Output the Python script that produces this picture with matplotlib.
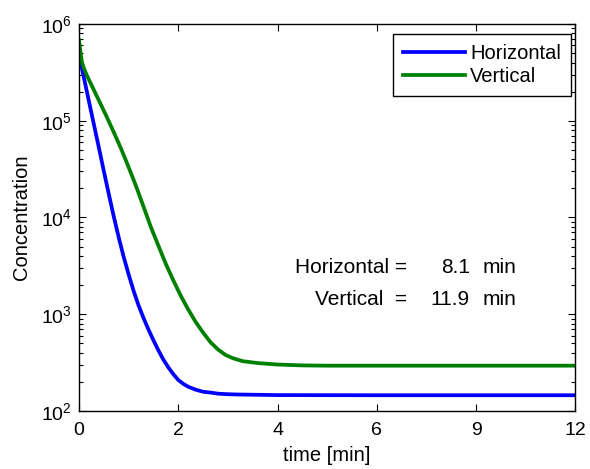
import numpy as np
import matplotlib
matplotlib.use("Agg")
import matplotlib.pyplot as plt
from matplotlib.ticker import LogLocator, FixedLocator, NullLocator

plt.rcParams['font.family'] = ['Liberation Sans', 'DejaVu Sans']
plt.rcParams['mathtext.fontset'] = 'custom'
plt.rcParams['mathtext.rm'] = 'Liberation Sans'
plt.rcParams['mathtext.it'] = 'Liberation Sans:italic'
plt.rcParams['mathtext.bf'] = 'Liberation Sans:bold'

# Data
t_h = [0, 0.1, 0.2, 0.3, 0.4, 0.5, 0.6, 0.7, 0.8, 0.9, 1.0, 1.1, 1.2, 1.3, 1.4, 1.5,
       1.6, 1.7, 1.8, 1.9, 2.0, 2.1, 2.2, 2.35, 2.5, 2.65, 2.8, 3.0, 3.2, 3.6, 4, 6, 9, 12]
c_h = [4.8e5, 2.75e5, 1.58e5, 9.1e4, 5.25e4, 3.0e4, 1.74e4, 1.02e4, 6.2e3, 3.9e3,
       2.57e3, 1.74e3, 1.23e3, 912, 692, 537, 422, 339, 282, 240, 209, 191, 178, 166,
       158, 155, 151, 149, 148, 147, 146, 145.5, 145.5, 145.5]
t_v = [0, 0.03, 0.06, 0.1, 0.15, 0.25, 0.4, 0.55, 0.7, 0.85, 1.0, 1.15, 1.3, 1.45,
       1.6, 1.75, 1.9, 2.05, 2.2, 2.35, 2.5, 2.65, 2.8, 2.95, 3.1, 3.3, 3.6, 4.0, 4.5,
       5, 6, 9, 12]
c_v = [6.8e5, 5.0e5, 4.0e5, 3.47e5, 3.0e5, 2.34e5, 1.62e5, 1.12e5, 7.6e4, 5.1e4,
       3.3e4, 2.1e4, 1.29e4, 7.9e3, 5.1e3, 3.3e3, 2.24e3, 1.55e3, 1.12e3, 832, 646,
       513, 432, 380, 351, 327, 313, 302, 296, 294, 294, 294, 294]
labels = ["Horizontal", "Vertical"]
xticks = [0, 2, 4, 6, 9, 12]
note_names = ["Horizontal =", "Vertical  ="]
note_values = ["8.1", "11.9"]
note_unit = "min"


def fwd(t):
    t = np.asarray(t, dtype=float)
    return np.where(t <= 6, t / 2.0, 3.0 + (t - 6.0) / 3.0)


def inv(u):
    u = np.asarray(u, dtype=float)
    return np.where(u <= 3, u * 2.0, 6.0 + (u - 3.0) * 3.0)


fs = 14.5
fig = plt.figure(figsize=(5.90, 4.69), dpi=100)
ax = fig.add_axes([0.134, 0.1237, 0.841, 0.8251])
ax.set_xscale('function', functions=(fwd, inv))
ax.set_yscale('log')

lw = 2.7
ax.plot(t_h, c_h, color=(0, 0, 1), lw=lw, label=labels[0], solid_joinstyle='round')
ax.plot(t_v, c_v, color=(0, 0.5, 0), lw=lw, label=labels[1], solid_joinstyle='round')

ax.set_xlim(0, 12)
ax.set_ylim(1e2, 1e6)
ax.xaxis.set_major_locator(FixedLocator(xticks))
ax.set_xticklabels([str(v) for v in xticks])
ax.xaxis.set_minor_locator(NullLocator())
ax.yaxis.set_major_locator(LogLocator(base=10, numticks=10))
ax.yaxis.set_minor_locator(LogLocator(base=10, subs=np.arange(2, 10), numticks=20))

ax.tick_params(which='both', direction='in', top=True, right=True, labelsize=14,
               colors='black', width=0.8)
ax.tick_params(which='major', length=5)
ax.tick_params(axis='x', which='major', pad=8)
ax.tick_params(axis='y', which='major', pad=5)
ax.tick_params(which='minor', length=3)
for s in ax.spines.values():
    s.set_linewidth(1.0)

ax.set_xlabel("time [min]", fontsize=fs, labelpad=5)
ax.set_ylabel("Concentration", fontsize=fs, labelpad=7)

leg = ax.legend(loc='upper right', bbox_to_anchor=(0.992, 0.975), fontsize=fs,
                fancybox=False, edgecolor='black', framealpha=1,
                handlelength=3.1, handletextpad=0.25, borderpad=0.5,
                labelspacing=0.22, borderaxespad=0)
leg.get_frame().set_linewidth(1.0)

ys = [0.3566, 0.2739]
for name, val, y in zip(note_names, note_values, ys):
    ax.text(0.6606, y, name, transform=ax.transAxes, fontsize=15, ha='right', va='baseline')
    ax.text(0.7875, y, val, transform=ax.transAxes, fontsize=15, ha='right', va='baseline')
    ax.text(0.8137, y, note_unit, transform=ax.transAxes, fontsize=15, ha='left', va='baseline')

fig.savefig("out.png", dpi=100)
